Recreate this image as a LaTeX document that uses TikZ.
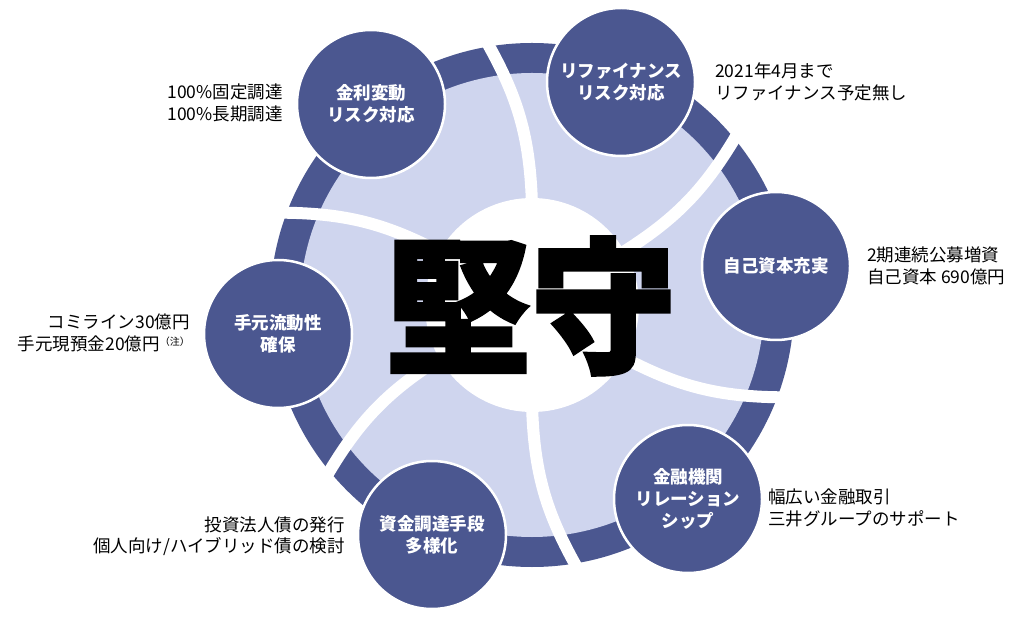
\documentclass[tikz,border=0pt]{standalone}
\usepackage{fontspec}
\usepackage{xcolor}
\usepackage{tikz}
\usetikzlibrary{calc}
\newfontfamily\jp{Noto Sans CJK JP}
\newfontfamily\brush{Noto Sans CJK JP}[BoldFeatures={FakeBold=2.5}]
\definecolor{navy}{RGB}{75,87,144}
\definecolor{lavender}{RGB}{207,213,238}

\begin{document}
\begin{tikzpicture}[x=1pt, y=1pt,
    topic/.style={circle, draw=white, line width=2.5pt, fill=navy, minimum size=148pt, inner sep=0pt, align=center, text=white, font=\jp\bfseries\fontsize{17.5}{22}\selectfont},
    note/.style={inner sep=0pt, font=\jp\fontsize{17.5}{21.5}\selectfont},
    divider/.style={white, line width=12pt}]
    \useasboundingbox (0,0) rectangle (1024,624);

    \coordinate (C) at (532,319);
    \fill[navy] (C) circle (262);
    \fill[lavender] (C) circle (232);
    \fill[white] (C) circle (107);
    \foreach \a in {90, 30, -30, -90, 210, 150}
        \draw[divider] ($(C)+(\a:100)$) to[bend right=14] ($(C)+(\a+10:270)$);

    \node[topic] (kinri) at (371,520) {金利変動\\リスク対応};
    \node[topic] (refi) at (621,542) {リファイナンス\\リスク対応};
    \node[topic] (jiko) at (776,358) {自己資本充実};
    \node[topic] (kinyu) at (688,125) {金融機関\\リレーション\\シップ};
    \node[topic] (shikin) at (432,89) {資金調達手段\\多様化};
    \node[topic] (temoto) at (278,290) {手元流動性\\確保};

    \node[inner sep=0pt, font=\brush\bfseries\fontsize{145}{145}\selectfont] (kenshu) at (531,318) {堅守};

    \node[note, anchor=east, align=right] (kinri-note) at (283,521) {100\%固定調達\\100\%長期調達};
    \node[note, anchor=west, align=left] (refi-note) at (715,542) {2021年4月まで\\リファイナンス予定無し};
    \node[note, anchor=west, align=left] (jiko-note) at (867,358) {2期連続公募増資\\自己資本 690億円};
    \node[note, anchor=west, align=left] (kinyu-note) at (768,116) {幅広い金融取引\\三井グループのサポート};
    \node[note, anchor=east, align=right] (shikin-note) at (345,88) {投資法人債の発行\\個人向け/ハイブリッド債の検討};
    \node[note, anchor=east, align=right] (temoto-note) at (190,291) {コミライン30億円\\手元現預金20億円{\fontsize{10}{10}\selectfont\raisebox{5pt}{（注）}}};
\end{tikzpicture}
\end{document}
